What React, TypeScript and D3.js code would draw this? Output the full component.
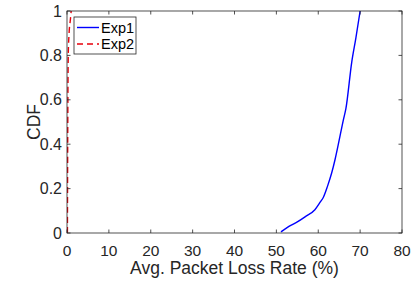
import React from 'react';
import * as d3 from 'd3';

// CDF of average packet loss rate
const exp1Loss = [51.1, 53, 55, 57, 59.2, 60.5, 61.2, 62.2, 63.2, 64, 64.8, 66, 66.6, 68, 69, 70];
const exp1Cdf = [0.005, 0.03, 0.05, 0.075, 0.105, 0.14, 0.16, 0.21, 0.27, 0.33, 0.4, 0.51, 0.56, 0.77, 0.88, 1.0];
const exp2Loss = [0.1, 0.15, 0.2, 0.3, 0.5, 0.8, 1.0];
const exp2Cdf = [0, 0.3, 0.55, 0.8, 0.9, 0.96, 1.0];
const xTicks = [0, 10, 20, 30, 40, 50, 60, 70, 80];
const yTicks = [0, 0.2, 0.4, 0.6, 0.8, 1];
const seriesNames = ['Exp1', 'Exp2'];

const W = 415;
const H = 287;
const margin = { top: 11, right: 13, bottom: 54, left: 67 };
const axisColor = '#262626';
const font = 'Liberation Sans, Arial, Helvetica, sans-serif';

const App = () => {
  const iw = W - margin.left - margin.right;
  const ih = H - margin.top - margin.bottom;

  const x = d3.scaleLinear().domain([0, 80]).range([0, iw]);
  const y = d3.scaleLinear().domain([0, 1]).range([ih, 0]);

  const line = d3
    .line<[number, number]>()
    .x((d) => x(d[0]))
    .y((d) => y(d[1]))
    .curve(d3.curveMonotoneX);

  const exp1 = exp1Loss.map((v, i) => [v, exp1Cdf[i]] as [number, number]);
  const exp2 = exp2Loss.map((v, i) => [v, exp2Cdf[i]] as [number, number]);

  const tickLen = 3.5;

  return (
    <svg
      width={W}
      height={H}
      style={{ position: 'absolute', left: 0, top: 0, background: '#fff' }}
      fontFamily={font}
    >
      <g transform={`translate(${margin.left},${margin.top})`}>
        <defs>
          <clipPath id="plot-clip">
            <rect x={0} y={-1} width={iw} height={ih + 2} />
          </clipPath>
        </defs>

        <g clipPath="url(#plot-clip)">
          <path d={line(exp1) || ''} fill="none" stroke="#0000ff" strokeWidth={1.4} />
          <path
            d={line(exp2) || ''}
            fill="none"
            stroke="#e8000b"
            strokeWidth={1.4}
            strokeDasharray="6,4"
          />
        </g>

        {/* box */}
        <rect x={0} y={0} width={iw} height={ih} fill="none" stroke={axisColor} strokeWidth={0.8} />

        {xTicks.map((t) => (
          <g key={`x${t}`}>
            <line x1={x(t)} x2={x(t)} y1={ih} y2={ih - tickLen} stroke={axisColor} strokeWidth={0.8} />
            <line x1={x(t)} x2={x(t)} y1={0} y2={tickLen} stroke={axisColor} strokeWidth={0.8} />
            <text x={x(t)} y={ih + 23} textAnchor="middle" fontSize={15.5} fill={axisColor}>
              {t}
            </text>
          </g>
        ))}

        {yTicks.map((t) => (
          <g key={`y${t}`}>
            <line x1={0} x2={tickLen} y1={y(t)} y2={y(t)} stroke={axisColor} strokeWidth={0.8} />
            <line x1={iw} x2={iw - tickLen} y1={y(t)} y2={y(t)} stroke={axisColor} strokeWidth={0.8} />
            <text x={-5} y={y(t) + 5.5} textAnchor="end" fontSize={16} fill={axisColor}>
              {d3.format('~g')(t)}
            </text>
          </g>
        ))}

        <text x={iw / 2} y={ih + 41} textAnchor="middle" fontSize={17.5} fill={axisColor}>
          Avg. Packet Loss Rate (%)
        </text>
        <text
          transform={`translate(${-27},${ih / 2}) rotate(-90)`}
          textAnchor="middle"
          fontSize={17.5}
          fill={axisColor}
        >
          CDF
        </text>

        {/* legend */}
        <g transform="translate(7,6)">
          <rect x={0} y={0} width={62} height={37} fill="#fff" stroke={axisColor} strokeWidth={0.8} />
          {seriesNames.map((name, i) => (
            <g key={name} transform={`translate(0,${10.5 + i * 16.5})`}>
              <line
                x1={3}
                x2={25}
                y1={0}
                y2={0}
                stroke={i === 0 ? '#0000ff' : '#e8000b'}
                strokeWidth={1.4}
                strokeDasharray={i === 0 ? undefined : '6,4'}
              />
              <text x={27} y={5} fontSize={14.5} fill="#000">
                {name}
              </text>
            </g>
          ))}
        </g>
      </g>
    </svg>
  );
};

export default App;
